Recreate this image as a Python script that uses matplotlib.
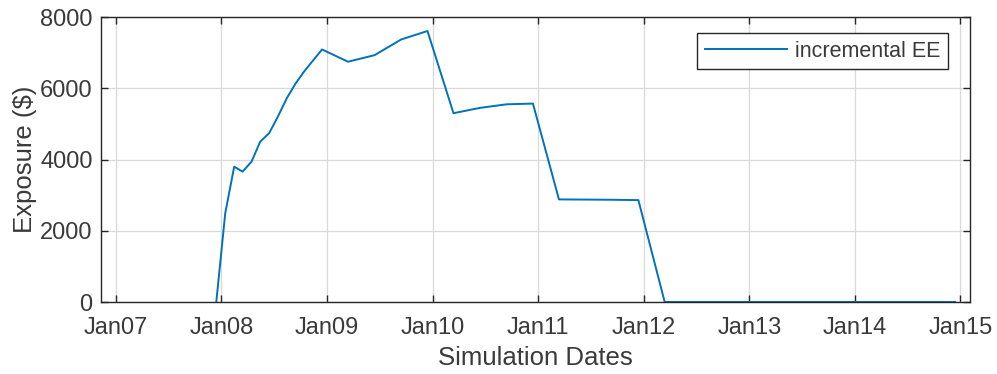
import matplotlib
matplotlib.use("Agg")
import matplotlib.pyplot as plt
import numpy as np
from datetime import datetime

plt.rcParams['font.family'] = ['Liberation Sans', 'DejaVu Sans']

# simulation dates: monthly for the first year, then quarterly
monthly = [datetime(2007, 12, 14)] + [datetime(2008, m, 14) for m in range(1, 13)]
quarterly = []
for yr in range(2009, 2015):
    for m in (3, 6, 9, 12):
        quarterly.append(datetime(yr, m, 14))
sim_dates = monthly + quarterly

ee_monthly = [0, 2490, 3800, 3660, 3940, 4500, 4740, 5200, 5720, 6140, 6480, 6790, 7090]
ee_quarterly = [6745, 6930, 7370, 7607,
                5300, 5450, 5550, 5570,
                2880, 2875, 2870, 2860,
                0, 0, 0, 0,
                0, 0, 0, 0,
                0, 0, 0, 0]
incremental_ee = ee_monthly + ee_quarterly

tick_dates = [datetime(y, 1, 1) for y in range(2007, 2016)]
tick_labels = ["Jan%02d" % (y % 100) for y in range(2007, 2016)]
y_ticks = [0, 2000, 4000, 6000, 8000]

fig = plt.figure(figsize=(9.97, 3.74), dpi=100)
ax = fig.add_axes([0.1013, 0.1925, 0.8717, 0.762])

ax.plot(sim_dates, incremental_ee, color='#0072BD', lw=1.4, label='incremental EE')

ax.set_xlim(datetime(2006, 11, 10), datetime(2015, 2, 4))
ax.set_ylim(0, 8000)
ax.set_xticks(tick_dates)
ax.set_xticklabels(tick_labels)
ax.set_yticks(y_ticks)

ax.grid(True, color='#d9d9d9', lw=0.9)
ax.set_axisbelow(True)
for s in ax.spines.values():
    s.set_color('#262626')
    s.set_linewidth(1.0)
ax.tick_params(direction='in', top=True, right=True, length=5, width=1.0,
               colors='#262626', labelsize=17, labelcolor='#3a3a3a')
ax.tick_params(axis='x', pad=11)
ax.tick_params(axis='y', pad=6)

ax.set_xlabel('Simulation Dates', fontsize=18.5, color='#3a3a3a', labelpad=5)
ax.set_ylabel('Exposure ($)', fontsize=18.5, color='#3a3a3a', labelpad=2)

leg = ax.legend(loc='upper right', bbox_to_anchor=(0.9747, 0.9439), borderaxespad=0,
                fontsize=15.5, fancybox=False, framealpha=1, edgecolor='#262626',
                handlelength=3.8, handletextpad=0.4, borderpad=0.35)
leg.get_frame().set_linewidth(1.0)
for t in leg.get_texts():
    t.set_color('#3a3a3a')

fig.savefig('out.png', dpi=100)
